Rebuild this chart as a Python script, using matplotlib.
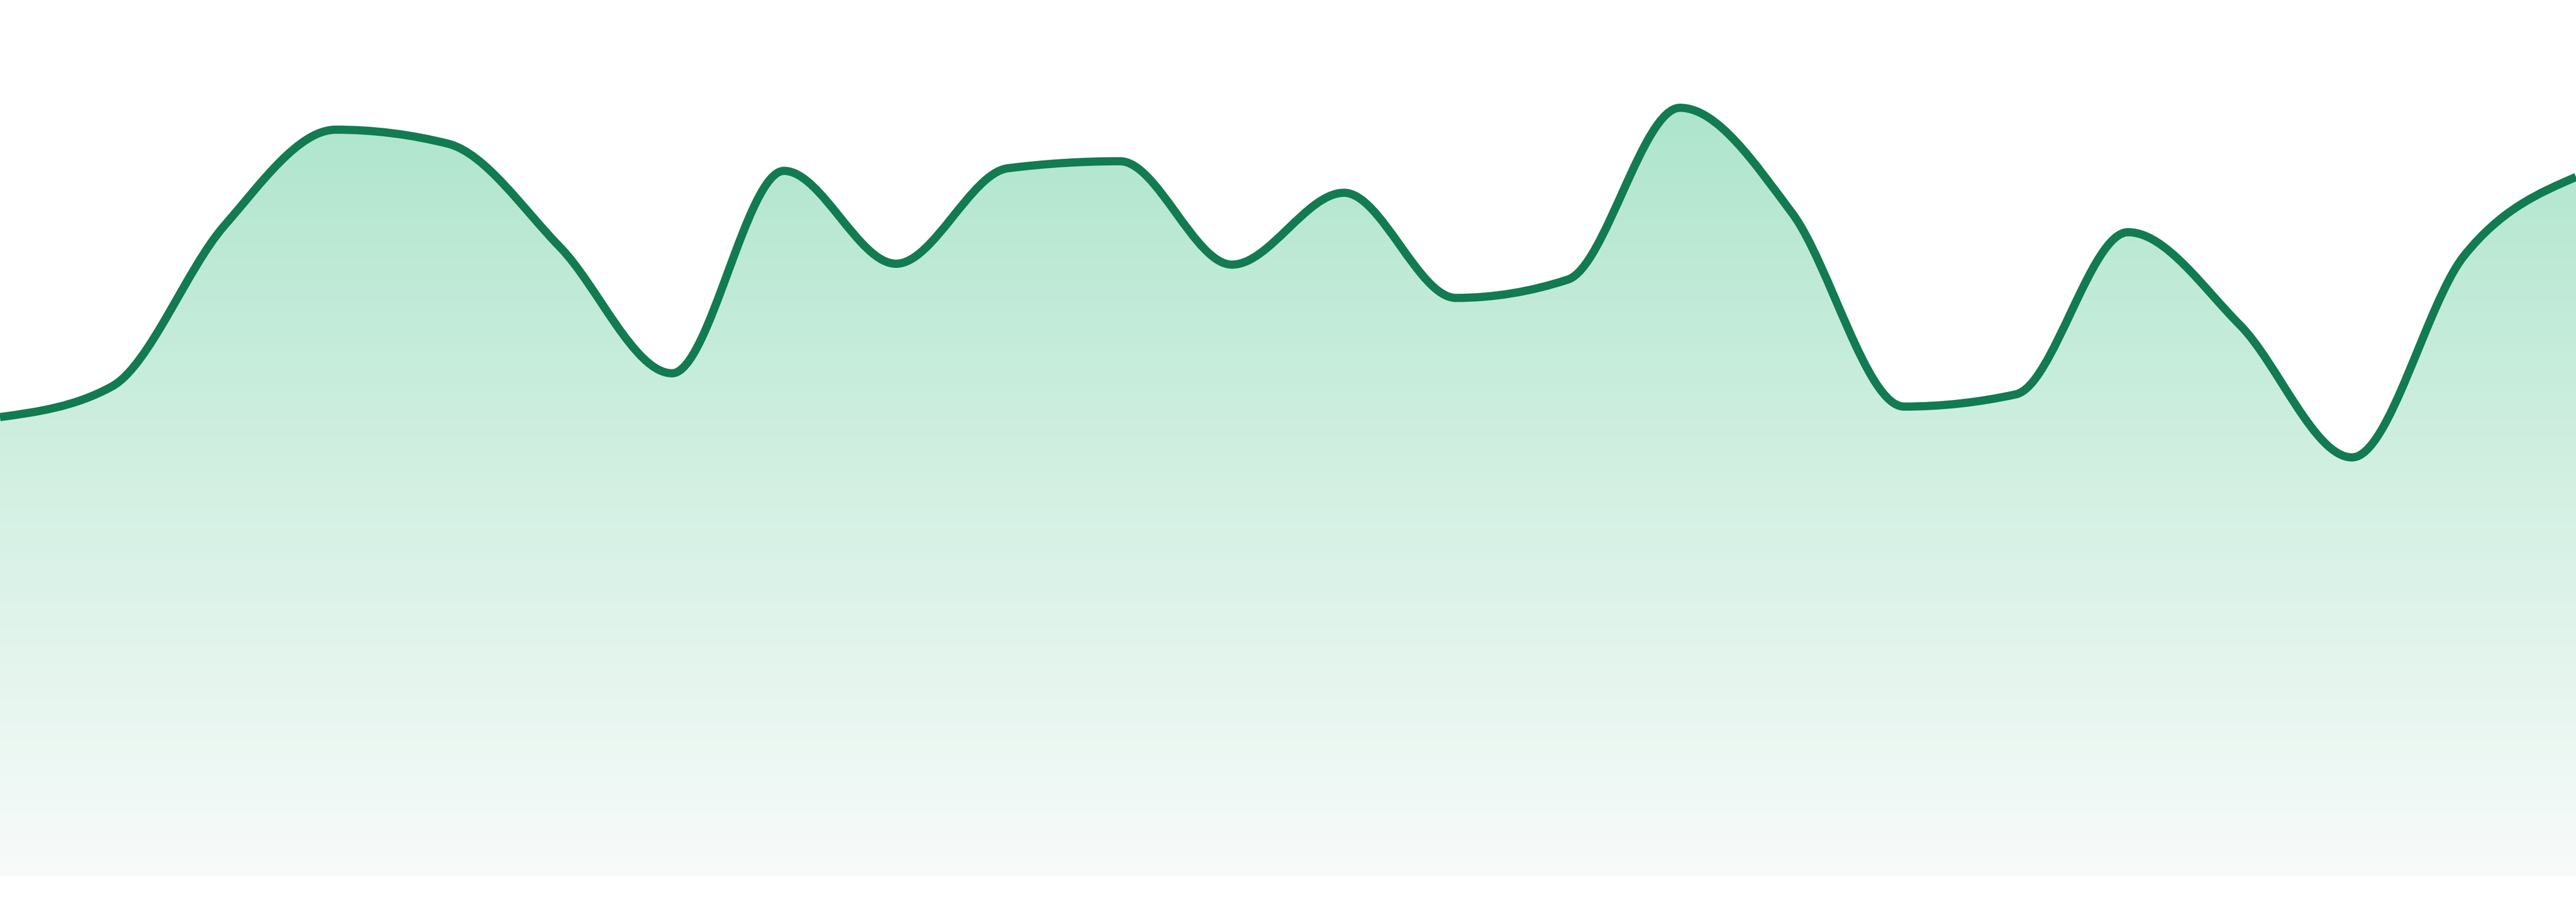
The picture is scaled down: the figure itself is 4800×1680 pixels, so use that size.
import numpy as np
import matplotlib
matplotlib.use("Agg")
import matplotlib.pyplot as plt
from matplotlib.path import Path
from matplotlib.patches import PathPatch

# ---- data -------------------------------------------------------------
x_index = list(range(24))
values = [52.4, 55.9, 74.2, 85.2, 83.6, 71.8, 57.4, 80.5, 69.9, 80.8, 81.6, 69.8,
          78.0, 66.0, 68.1, 87.7, 75.7, 53.6, 55.0, 73.5, 62.9, 47.8, 70.8, 79.8]

line_color = "#127b52"
fill_top = (174 / 255, 229 / 255, 204 / 255)
fill_bottom = (248 / 255, 251 / 255, 250 / 255)
y_min, y_max = 0, 100


# ---- monotone-x cubic (same as d3.curveMonotoneX) ----------------------
def _sign(v):
    return -1.0 if v < 0 else 1.0


def monotone_path_vertices(xs, ys):
    xs = np.asarray(xs, float)
    ys = np.asarray(ys, float)
    n = len(xs)
    t = np.zeros(n)
    for i in range(1, n - 1):
        h0 = xs[i] - xs[i - 1]
        h1 = xs[i + 1] - xs[i]
        s0 = (ys[i] - ys[i - 1]) / h0
        s1 = (ys[i + 1] - ys[i]) / h1
        p = (s0 * h1 + s1 * h0) / (h0 + h1)
        t[i] = (_sign(s0) + _sign(s1)) * min(abs(s0), abs(s1), 0.5 * abs(p))
    h = xs[1] - xs[0]
    t[0] = (3 * (ys[1] - ys[0]) / h - t[1]) / 2
    h = xs[-1] - xs[-2]
    t[-1] = (3 * (ys[-1] - ys[-2]) / h - t[-2]) / 2
    verts = [(xs[0], ys[0])]
    codes = [Path.MOVETO]
    for i in range(n - 1):
        dx = (xs[i + 1] - xs[i]) / 3
        verts += [(xs[i] + dx, ys[i] + dx * t[i]),
                  (xs[i + 1] - dx, ys[i + 1] - dx * t[i + 1]),
                  (xs[i + 1], ys[i + 1])]
        codes += [Path.CURVE4] * 3
    return verts, codes


fig = plt.figure(figsize=(48, 16.8), dpi=100)
fig.patch.set_facecolor("white")
ax = fig.add_axes([0, 48 / 1680, 1, 1632 / 1680])
ax.set_xlim(x_index[0], x_index[-1])
ax.set_ylim(y_min, y_max)
ax.axis("off")

verts, codes = monotone_path_vertices(x_index, values)

# area fill with vertical gradient clipped to the area path
area_verts = verts + [(x_index[-1], y_min), (x_index[0], y_min), verts[0]]
area_codes = codes + [Path.LINETO, Path.LINETO, Path.CLOSEPOLY]
area_patch = PathPatch(Path(area_verts, area_codes), facecolor="none",
                       edgecolor="none", transform=ax.transData)
ax.add_patch(area_patch)

grad_top_val = 88.4
ys = np.linspace(y_max, y_min, 600)
frac = np.clip((ys - y_min) / (grad_top_val - y_min), 0, 1)[:, None]
top = np.array(fill_top)[None, :]
bot = np.array(fill_bottom)[None, :]
img = (bot + (top - bot) * frac)[:, None, :]
im = ax.imshow(img, extent=[x_index[0], x_index[-1], y_min, y_max],
               aspect="auto", interpolation="bilinear", zorder=1)
im.set_clip_path(area_patch)

# line
line_patch = PathPatch(Path(verts, codes), facecolor="none",
                       edgecolor=line_color, linewidth=11, zorder=3,
                       capstyle="butt", joinstyle="round")
ax.add_patch(line_patch)

fig.savefig("out.png", dpi=100, facecolor="white")
